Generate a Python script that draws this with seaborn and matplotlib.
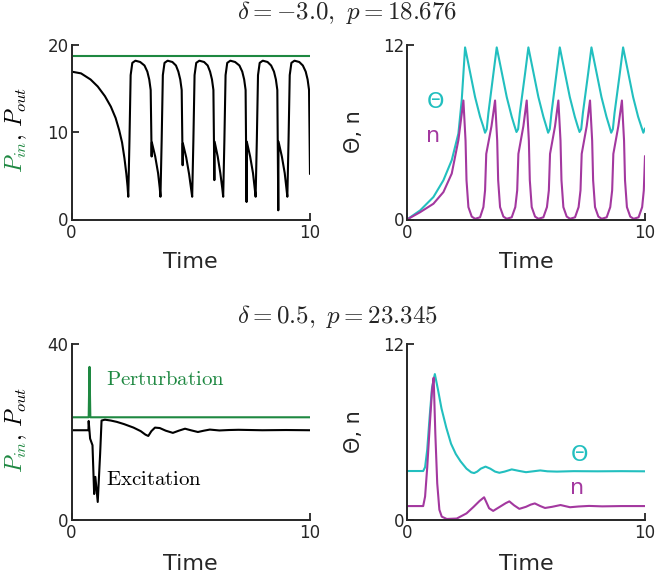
import matplotlib
matplotlib.use("Agg")
import matplotlib.pyplot as plt
import seaborn as sns
import numpy as np

# ---------------- data ----------------
# Top row: delta = -3.0, p = 18.676
top_title = r"$\delta=-3.0,\ p=18.676$"
top_p_in = 18.676
top_out_t = [0.00, 0.40, 0.80, 1.10, 1.40, 1.65, 1.85, 2.00, 2.12, 2.22, 2.30, 2.35, 2.38,
             2.43, 2.48, 2.55, 2.68, 2.88, 3.06, 3.18, 3.26, 3.32, 3.36, 3.37, 3.51, 3.63, 3.70, 3.73,
             3.78, 3.83, 3.90, 4.03, 4.23, 4.38, 4.48, 4.56, 4.62, 4.66, 4.67, 4.81, 4.93, 5.01, 5.06,
             5.11, 5.16, 5.23, 5.36, 5.56, 5.71, 5.81, 5.89, 5.95, 5.99, 6.00, 6.13, 6.24, 6.32, 6.36,
             6.41, 6.46, 6.53, 6.66, 6.86, 7.04, 7.16, 7.24, 7.30, 7.34, 7.35, 7.49, 7.61, 7.68, 7.72,
             7.77, 7.82, 7.89, 8.02, 8.22, 8.37, 8.49, 8.57, 8.63, 8.67, 8.68, 8.82, 8.94, 9.01, 9.05,
             9.10, 9.15, 9.22, 9.35, 9.55, 9.70, 9.82, 9.90, 9.96, 10.0]
top_out_v = [16.9, 16.7, 16.0, 15.2, 14.1, 12.9, 11.6, 10.2, 8.8, 7.0, 5.2, 3.8, 2.6,
             9.0, 16.5, 17.9, 18.15, 18.0, 17.6, 16.9, 16.0, 14.8, 7.2, 8.8, 7.2, 5.3, 3.6, 2.6,
             9.0, 16.5, 17.9, 18.15, 18.0, 17.6, 16.9, 16.0, 14.8, 6.2, 8.7, 7.1, 5.2, 3.6, 2.6,
             9.0, 16.5, 17.9, 18.15, 18.0, 17.6, 16.9, 16.0, 14.8, 4.5, 8.9, 7.2, 5.3, 3.6, 2.6,
             9.0, 16.5, 17.9, 18.15, 18.0, 17.6, 16.9, 16.0, 14.8, 2.0, 8.9, 7.2, 5.3, 3.6, 2.6,
             9.0, 16.5, 17.9, 18.15, 18.0, 17.6, 16.9, 16.0, 14.8, 1.05, 8.9, 7.2, 5.3, 3.6, 2.6,
             9.0, 16.5, 17.9, 18.15, 18.0, 17.6, 16.9, 16.0, 14.8, 5.2]

top_theta_t = [0.0, 0.55, 1.11, 1.53, 1.88, 2.16, 2.30, 2.44,
               2.65, 2.86, 3.07, 3.20, 3.28, 3.35, 3.42, 3.63, 3.77,
               3.98, 4.19, 4.40, 4.52, 4.60, 4.67, 4.74, 4.96, 5.10,
               5.31, 5.52, 5.73, 5.85, 5.93, 6.00, 6.07, 6.28, 6.42,
               6.63, 6.84, 7.05, 7.17, 7.25, 7.32, 7.39, 7.61, 7.75,
               7.96, 8.17, 8.38, 8.50, 8.58, 8.65, 8.72, 8.94, 9.08,
               9.29, 9.50, 9.71, 9.84, 9.93, 10.0]
top_theta_v = [0.0, 0.62, 1.54, 2.69, 4.07, 5.9, 8.2, 11.8,
               10.1, 8.4, 7.05, 6.4, 5.95, 6.2, 7.3, 10.0, 11.8,
               10.1, 8.4, 7.05, 6.4, 6.0, 6.2, 7.3, 10.0, 11.8,
               10.1, 8.4, 7.05, 6.4, 5.95, 6.2, 7.3, 10.0, 11.8,
               10.1, 8.4, 7.05, 6.4, 6.0, 6.2, 7.3, 10.0, 11.8,
               10.1, 8.4, 7.05, 6.4, 5.95, 6.2, 7.3, 10.0, 11.8,
               10.1, 8.4, 7.05, 6.4, 5.95, 6.25]

top_n_t = [0.0, 0.55, 1.11, 1.53, 1.88, 2.16, 2.37,
           2.46, 2.50, 2.58, 2.72, 2.86, 3.07, 3.21, 3.28, 3.33, 3.55, 3.70,
           3.79, 3.83, 3.91, 4.05, 4.19, 4.40, 4.55, 4.63, 4.68, 4.89, 5.03,
           5.12, 5.16, 5.24, 5.38, 5.52, 5.73, 5.88, 5.96, 6.01, 6.22, 6.36,
           6.45, 6.49, 6.57, 6.71, 6.85, 7.06, 7.21, 7.29, 7.34, 7.55, 7.69,
           7.78, 7.82, 7.90, 8.04, 8.18, 8.39, 8.54, 8.62, 8.67, 8.88, 9.03,
           9.12, 9.16, 9.24, 9.38, 9.52, 9.73, 9.88, 9.95, 10.0]
top_n_v = [0.0, 0.5, 1.08, 1.88, 3.15, 5.45, 8.16,
           5.4, 2.7, 0.85, 0.2, 0.05, 0.15, 0.85, 2.0, 4.5, 6.4, 8.16,
           5.4, 2.7, 0.85, 0.2, 0.05, 0.15, 0.85, 2.0, 4.5, 6.4, 8.16,
           5.4, 2.7, 0.85, 0.2, 0.05, 0.15, 0.85, 2.0, 4.5, 6.4, 8.16,
           5.4, 2.7, 0.85, 0.2, 0.05, 0.15, 0.85, 2.0, 4.5, 6.4, 8.16,
           5.4, 2.7, 0.85, 0.2, 0.05, 0.15, 0.85, 2.0, 4.5, 6.4, 8.16,
           5.4, 2.7, 0.85, 0.2, 0.05, 0.15, 0.85, 2.0, 4.35]

# Bottom row: delta = 0.5, p = 23.345
bot_title = r"$\delta=0.5,\ p=23.345$"
bot_in_t = [0.0, 0.72, 0.755, 0.79, 10.0]
bot_in_v = [23.345, 23.345, 34.8, 23.345, 23.345]
bot_out_t = [0.0, 0.71, 0.72, 0.78, 0.88, 0.95, 1.00, 1.10, 1.20, 1.26, 1.40, 1.65, 1.90, 2.20,
             2.60, 2.90, 3.10, 3.22, 3.35, 3.50, 3.70, 3.95, 4.25, 4.50, 4.76, 5.00, 5.30,
             5.55, 5.80, 6.20, 6.60, 7.00, 8.00, 9.00, 10.0]
bot_out_v = [20.4, 20.4, 22.5, 18.5, 17.0, 5.9, 9.8, 4.1, 15.0, 22.6, 22.8, 22.6, 22.3, 21.8,
             21.0, 20.2, 19.4, 19.1, 20.2, 21.0, 20.9, 20.3, 19.8, 20.3, 20.75, 20.4, 20.0,
             20.3, 20.55, 20.35, 20.45, 20.5, 20.4, 20.45, 20.4]

bot_theta_t = [0.0, 0.68, 0.76, 0.85, 0.95, 1.05, 1.17, 1.30, 1.45, 1.65, 1.85, 2.05, 2.25,
               2.50, 2.70, 2.82, 2.95, 3.10, 3.30, 3.50, 3.70, 3.88, 4.10, 4.40, 4.70,
               5.00, 5.30, 5.60, 5.90, 6.30, 7.00, 8.00, 9.00, 10.0]
bot_theta_v = [3.34, 3.34, 3.6, 4.8, 7.0, 9.0, 9.95, 8.9, 7.6, 6.3, 5.2, 4.5, 4.0,
               3.5, 3.25, 3.2, 3.3, 3.5, 3.64, 3.5, 3.3, 3.22, 3.3, 3.45, 3.35,
               3.26, 3.32, 3.38, 3.32, 3.3, 3.33, 3.32, 3.33, 3.32]

bot_n_t = [0.0, 0.68, 0.76, 0.85, 0.97, 1.05, 1.12, 1.19, 1.27, 1.36, 1.46, 1.67, 2.09,
           2.50, 2.80, 3.05, 3.24, 3.45, 3.62, 3.90, 4.15, 4.30, 4.50, 4.72, 5.00,
           5.20, 5.37, 5.60, 5.80, 6.10, 6.45, 6.85, 7.20, 7.65, 8.20, 9.00, 10.0]
bot_n_v = [0.95, 0.95, 1.6, 3.6, 6.8, 8.8, 9.7, 5.9, 2.5, 0.7, 0.23, 0.07, 0.1,
           0.45, 0.9, 1.3, 1.55, 0.8, 0.62, 0.9, 1.15, 1.27, 1.0, 0.76, 0.9,
           1.05, 1.13, 0.95, 0.82, 0.9, 1.02, 0.87, 0.92, 0.96, 0.93, 0.95, 0.95]

x_ticks = [0, 10]
top_left_yticks = [0, 10, 20]
top_right_yticks = [0, 12]
bot_left_yticks = [0, 40]
bot_right_yticks = [0, 12]

# ---------------- style ----------------
sns.set_style("ticks")
plt.rcParams["font.family"] = ["DejaVu Sans"]
plt.rcParams["mathtext.fontset"] = "cm"
plt.rcParams["xtick.direction"] = "in"
plt.rcParams["ytick.direction"] = "in"

GREEN = "#1e8841"
CYAN = "#22bfbf"
PURPLE = "#a3389f"
LW = 1.5

fig = plt.figure(figsize=(6.58, 5.78), dpi=100)

L1, W1 = 71.5 / 658, 238.5 / 658
L2, W2 = 407 / 658, 238 / 658
B_top, H_top = 1 - 219.5 / 578, 175 / 578
B_bot, H_bot = 1 - 520 / 578, 176 / 578

ax_tl = fig.add_axes([L1, B_top, W1, H_top])
ax_tr = fig.add_axes([L2, B_top, W2, H_top])
ax_bl = fig.add_axes([L1, B_bot, W1, H_bot])
ax_br = fig.add_axes([L2, B_bot, W2, H_bot])


def line(ax, t, v, color):
    sns.lineplot(x=t, y=v, ax=ax, color=color, lw=LW, estimator=None, sort=False,
                 legend=False, solid_joinstyle="round", solid_capstyle="round")


# top-left
line(ax_tl, [0, 10], [top_p_in, top_p_in], GREEN)
line(ax_tl, top_out_t, top_out_v, "black")
# top-right
line(ax_tr, top_theta_t, top_theta_v, CYAN)
line(ax_tr, top_n_t, top_n_v, PURPLE)
# bottom-left
line(ax_bl, bot_in_t, bot_in_v, GREEN)
line(ax_bl, bot_out_t, bot_out_v, "black")
# bottom-right
line(ax_br, bot_theta_t, bot_theta_v, CYAN)
line(ax_br, bot_n_t, bot_n_v, PURPLE)

for ax, yt in [(ax_tl, top_left_yticks), (ax_tr, top_right_yticks),
               (ax_bl, bot_left_yticks), (ax_br, bot_right_yticks)]:
    ax.set_xlim(0, 10)
    ax.set_ylim(yt[0], yt[-1])
    ax.set_xticks(x_ticks)
    ax.set_yticks(yt)
    ax.tick_params(labelsize=12, length=5, width=1.3, pad=3)
    ax.tick_params(axis="y", pad=2)
    for s in ["left", "bottom"]:
        ax.spines[s].set_linewidth(1.4)
    sns.despine(ax=ax)
    ax.set_xlabel("Time", fontsize=16)
    ax.set_ylabel("")

ax_tl.xaxis.set_label_coords(0.5, -0.185)
ax_tr.xaxis.set_label_coords(0.5, -0.185)
ax_bl.xaxis.set_label_coords(0.5, -0.195)
ax_br.xaxis.set_label_coords(0.5, -0.195)

# left y labels: two-coloured
for ax in (ax_tl, ax_bl):
    ax.text(-0.205, 0.45, r"$P_{in}$", color=GREEN, fontsize=17, rotation=90,
            rotation_mode="anchor", ha="right", va="baseline", transform=ax.transAxes)
    ax.text(-0.205, 0.45, r"$,\,P_{out}$", color="black", fontsize=17, rotation=90,
            rotation_mode="anchor", ha="left", va="baseline", transform=ax.transAxes)

# right y labels
for ax in (ax_tr, ax_br):
    ax.set_ylabel("\u0398, n", fontsize=15)
    ax.yaxis.set_label_coords(-0.18, 0.5)

# annotations
ax_tr.text(0.118, 0.638, "\u0398", color=CYAN, fontsize=16, ha="center", va="baseline",
           transform=ax_tr.transAxes)
ax_tr.text(0.109, 0.443, "n", color=PURPLE, fontsize=16, ha="center", va="baseline",
           transform=ax_tr.transAxes)
ax_br.text(0.723, 0.335, "\u0398", color=CYAN, fontsize=16, ha="center", va="baseline",
           transform=ax_br.transAxes)
ax_br.text(0.716, 0.148, "n", color=PURPLE, fontsize=16, ha="center", va="baseline",
           transform=ax_br.transAxes)

ax_bl.text(1.43, 30.7, r"$\mathrm{Perturbation}$", color=GREEN, fontsize=15,
           ha="left", va="baseline")
ax_bl.text(1.43, 8.0, r"$\mathrm{Excitation}$", color="black", fontsize=15,
           ha="left", va="baseline")

# titles
fig.text(237 / 658, 1 - 18.5 / 578, top_title, fontsize=18, ha="left", va="baseline")
fig.text(237 / 658, 1 - 323 / 578, bot_title, fontsize=18, ha="left", va="baseline")

fig.savefig("out.png", dpi=100)
